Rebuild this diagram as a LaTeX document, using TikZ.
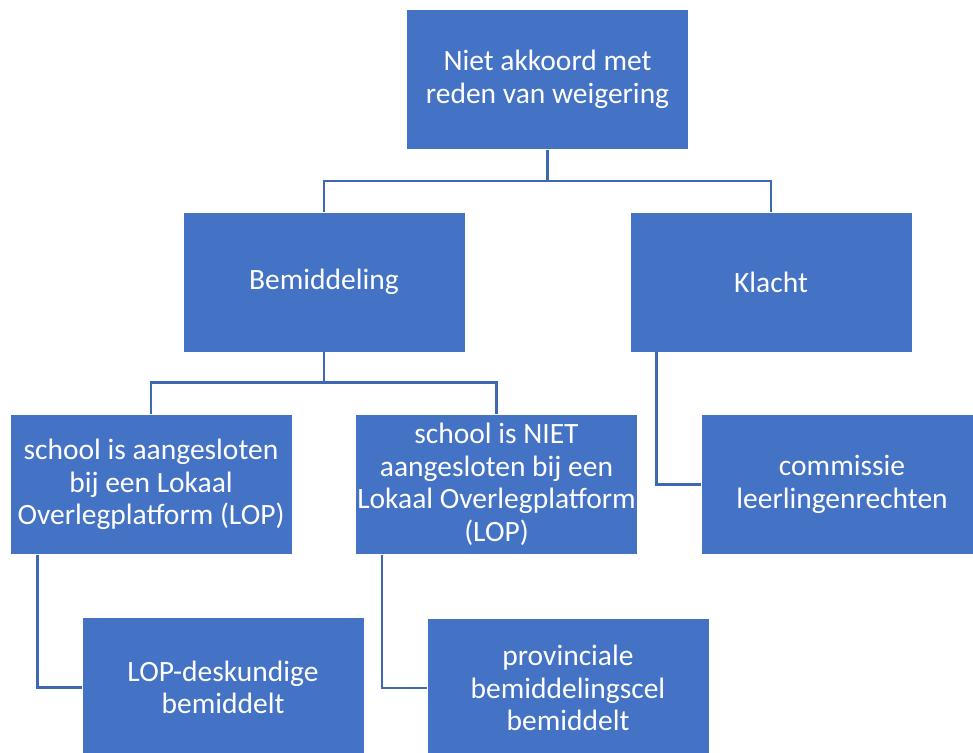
\documentclass[tikz,border=0pt]{standalone}
\usepackage{fontspec}
\setmainfont{Carlito}
\definecolor{boxblue}{RGB}{68,114,196}
\definecolor{lineblue}{RGB}{62,104,180}
\tikzset{
  box/.style={rectangle, fill=boxblue, draw=white, line width=0.8pt, text=white,
    minimum width=282pt, minimum height=140pt, inner sep=0pt, align=center,
    font=\fontsize{29.5}{32.5}\selectfont},
  conn/.style={draw=lineblue, line width=2.6pt}
}
\begin{document}
\begin{tikzpicture}[x=1pt,y=-1pt]
\clip (0,0) rectangle (973,752);
\fill[white] (0,0) rectangle (973,752);
\node[box] (top) at (547.5,79.5) {Niet akkoord met\\reden van weigering};
\node[box] (bem) at (324,282) {Bemiddeling};
\node[box] (kl) at (771,282) {Klacht};
\node[box] (sa) at (151,484.5) {school is aangesloten\\bij een Lokaal\\Overlegplatform (LOP)};
\node[box] (sn) at (496.5,484.5) {school is NIET\\aangesloten bij een\\Lokaal Overlegplatform\\(LOP)};
\node[box] (com) at (842,484.5) {commissie\\leerlingenrechten};
\node[box] (lop) at (223,687.5) {LOP-deskundige\\bemiddelt};
\node[box] (prov) at (568,688) {provinciale\\bemiddelingscel\\bemiddelt};
\coordinate (j1) at (547.5,181);
\coordinate (j2) at (324,382.5);
\draw[conn] (top.south) -- (j1) -| (bem.north);
\draw[conn] (j1) -| (kl.north);
\draw[conn] (bem.south) -- (j2) -| (sa.north);
\draw[conn] (j2) -| (sn.north);
\draw[conn] ([xshift=27pt]kl.south west) |- (com.west);
\draw[conn] ([xshift=28pt]sa.south west) |- (lop.west);
\draw[conn] ([xshift=27pt]sn.south west) |- (prov.west);
\end{tikzpicture}
\end{document}
